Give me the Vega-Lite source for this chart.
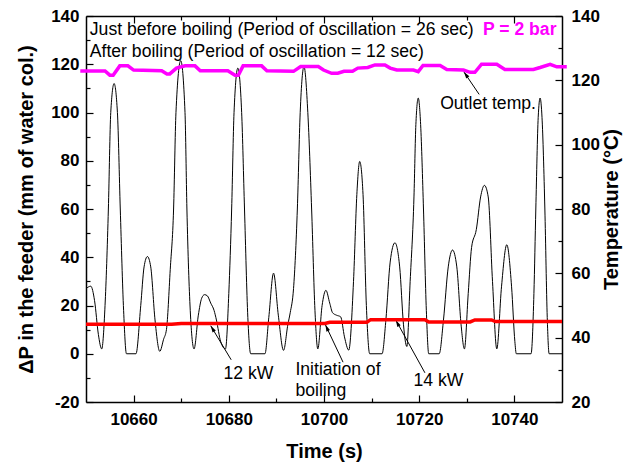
{
  "$schema": "https://vega.github.io/schema/vega-lite/v6.json",
  "width": 476,
  "height": 386,
  "autosize": {"type": "none"},
  "padding": {"left": 86, "top": 16, "right": 68, "bottom": 61},
  "background": "white",
  "config": {
    "view": {"stroke": null},
    "font": "Liberation Sans",
    "axis": {
      "grid": false,
      "domainColor": "black",
      "domainWidth": 1.5,
      "tickColor": "black",
      "tickWidth": 1.2,
      "labelFont": "Liberation Sans",
      "labelFontWeight": "bold",
      "labelFontSize": 17,
      "labelColor": "black",
      "labelFlush": false,
      "labelOverlap": false,
      "titleFont": "Liberation Sans",
      "titleFontWeight": "bold",
      "titleFontSize": 20,
      "titleColor": "black"
    }
  },
  "datasets": {
    "dp": [
      {"t": 10650, "dp": 27}, {"t": 10651, "dp": 28}, {"t": 10651.8, "dp": 22}, {"t": 10652.6, "dp": 8}, {"t": 10653.3, "dp": 2},
      {"t": 10654.0, "dp": 20}, {"t": 10654.7, "dp": 60}, {"t": 10655.2, "dp": 100}, {"t": 10655.9, "dp": 112}, {"t": 10656.6, "dp": 100},
      {"t": 10657.2, "dp": 60}, {"t": 10657.9, "dp": 18}, {"t": 10658.5, "dp": 0}, {"t": 10660.5, "dp": 0},
      {"t": 10661.5, "dp": 20}, {"t": 10662.2, "dp": 36}, {"t": 10662.9, "dp": 40.3}, {"t": 10663.6, "dp": 36}, {"t": 10664.5, "dp": 14},
      {"t": 10665.5, "dp": 1}, {"t": 10666.3, "dp": 6}, {"t": 10666.9, "dp": 10}, {"t": 10667.7, "dp": 35}, {"t": 10668.4, "dp": 60},
      {"t": 10668.9, "dp": 100}, {"t": 10669.9, "dp": 121.5}, {"t": 10670.8, "dp": 100}, {"t": 10671.2, "dp": 60}, {"t": 10671.9, "dp": 18},
      {"t": 10672.7, "dp": 2}, {"t": 10673.6, "dp": 16}, {"t": 10674.3, "dp": 23}, {"t": 10674.9, "dp": 24.5}, {"t": 10675.5, "dp": 24},
      {"t": 10676.2, "dp": 21}, {"t": 10676.9, "dp": 18}, {"t": 10677.4, "dp": 14}, {"t": 10678.3, "dp": 5}, {"t": 10679.3, "dp": 2},
      {"t": 10680.0, "dp": 25}, {"t": 10680.6, "dp": 60}, {"t": 10681.1, "dp": 100}, {"t": 10681.9, "dp": 118.4}, {"t": 10682.7, "dp": 100},
      {"t": 10683.3, "dp": 60}, {"t": 10684.0, "dp": 15}, {"t": 10684.6, "dp": 0}, {"t": 10687.6, "dp": 0},
      {"t": 10688.4, "dp": 15}, {"t": 10689.4, "dp": 33.4}, {"t": 10690.4, "dp": 16}, {"t": 10691.5, "dp": 1.4}, {"t": 10692.4, "dp": 12},
      {"t": 10692.9, "dp": 17}, {"t": 10693.6, "dp": 27}, {"t": 10694.4, "dp": 60}, {"t": 10695.0, "dp": 100}, {"t": 10695.8, "dp": 119},
      {"t": 10696.6, "dp": 100}, {"t": 10697.4, "dp": 60}, {"t": 10698.1, "dp": 18}, {"t": 10698.7, "dp": 2},
      {"t": 10699.6, "dp": 20}, {"t": 10700.4, "dp": 26.3}, {"t": 10701.2, "dp": 21}, {"t": 10701.8, "dp": 17}, {"t": 10702.6, "dp": 16},
      {"t": 10703.5, "dp": 15.3}, {"t": 10704.3, "dp": 7}, {"t": 10705.2, "dp": 1.5},
      {"t": 10706.2, "dp": 30}, {"t": 10706.9, "dp": 66}, {"t": 10707.5, "dp": 79.7}, {"t": 10708.2, "dp": 66}, {"t": 10708.9, "dp": 20},
      {"t": 10709.6, "dp": 0}, {"t": 10712.2, "dp": 0},
      {"t": 10713.0, "dp": 14}, {"t": 10713.9, "dp": 38}, {"t": 10714.9, "dp": 46}, {"t": 10715.9, "dp": 36}, {"t": 10716.7, "dp": 12},
      {"t": 10717.4, "dp": 3}, {"t": 10718.1, "dp": 30}, {"t": 10718.9, "dp": 65}, {"t": 10719.3, "dp": 95}, {"t": 10719.8, "dp": 106},
      {"t": 10720.3, "dp": 95}, {"t": 10720.9, "dp": 60}, {"t": 10721.5, "dp": 18}, {"t": 10722.0, "dp": 0}, {"t": 10724.2, "dp": 0},
      {"t": 10725.1, "dp": 14}, {"t": 10726.1, "dp": 36}, {"t": 10727.0, "dp": 43}, {"t": 10727.9, "dp": 36}, {"t": 10728.8, "dp": 12},
      {"t": 10729.5, "dp": 2}, {"t": 10730.3, "dp": 25}, {"t": 10731.0, "dp": 44}, {"t": 10732.0, "dp": 51.5}, {"t": 10732.9, "dp": 65},
      {"t": 10733.7, "dp": 69.8}, {"t": 10734.5, "dp": 65}, {"t": 10735.4, "dp": 30}, {"t": 10736.3, "dp": 2},
      {"t": 10737.3, "dp": 28}, {"t": 10738.4, "dp": 45.2}, {"t": 10739.4, "dp": 28}, {"t": 10740.1, "dp": 5}, {"t": 10740.4, "dp": 0},
      {"t": 10743.5, "dp": 0}, {"t": 10744.1, "dp": 25}, {"t": 10744.5, "dp": 60}, {"t": 10745.0, "dp": 98}, {"t": 10745.4, "dp": 106},
      {"t": 10745.8, "dp": 98}, {"t": 10746.4, "dp": 60}, {"t": 10746.9, "dp": 15}, {"t": 10747.3, "dp": 0}, {"t": 10750, "dp": 0}
    ],
    "temp": [
      {"series": "outlet", "t": 10648.8, "temp": 122.9}, {"series": "outlet", "t": 10654.0, "temp": 122.9},
      {"series": "outlet", "t": 10655.0, "temp": 121.6}, {"series": "outlet", "t": 10655.7, "temp": 121.6},
      {"series": "outlet", "t": 10657.1, "temp": 124.5}, {"series": "outlet", "t": 10658.8, "temp": 124.5},
      {"series": "outlet", "t": 10660.0, "temp": 123.2}, {"series": "outlet", "t": 10665.9, "temp": 123.0},
      {"series": "outlet", "t": 10667.0, "temp": 122.0}, {"series": "outlet", "t": 10667.6, "temp": 122.0},
      {"series": "outlet", "t": 10669.0, "temp": 123.8}, {"series": "outlet", "t": 10670.8, "temp": 124.5},
      {"series": "outlet", "t": 10672.9, "temp": 124.5}, {"series": "outlet", "t": 10674.0, "temp": 123.0},
      {"series": "outlet", "t": 10679.8, "temp": 123.0}, {"series": "outlet", "t": 10681.3, "temp": 121.6},
      {"series": "outlet", "t": 10682.0, "temp": 121.6}, {"series": "outlet", "t": 10683.0, "temp": 124.5},
      {"series": "outlet", "t": 10686.9, "temp": 124.5}, {"series": "outlet", "t": 10688.0, "temp": 123.0},
      {"series": "outlet", "t": 10693.6, "temp": 122.8}, {"series": "outlet", "t": 10695.1, "temp": 124.3},
      {"series": "outlet", "t": 10698.8, "temp": 124.3}, {"series": "outlet", "t": 10699.9, "temp": 123.2},
      {"series": "outlet", "t": 10701.6, "temp": 122.2}, {"series": "outlet", "t": 10702.9, "temp": 122.2},
      {"series": "outlet", "t": 10704.2, "temp": 122.8}, {"series": "outlet", "t": 10706.0, "temp": 122.8},
      {"series": "outlet", "t": 10707.1, "temp": 123.8}, {"series": "outlet", "t": 10709.2, "temp": 124.0},
      {"series": "outlet", "t": 10710.7, "temp": 124.8}, {"series": "outlet", "t": 10712.8, "temp": 124.8},
      {"series": "outlet", "t": 10713.9, "temp": 123.8}, {"series": "outlet", "t": 10715.3, "temp": 123.2},
      {"series": "outlet", "t": 10718.8, "temp": 123.2}, {"series": "outlet", "t": 10719.8, "temp": 122.7},
      {"series": "outlet", "t": 10720.8, "temp": 124.6}, {"series": "outlet", "t": 10724.4, "temp": 124.6},
      {"series": "outlet", "t": 10725.8, "temp": 123.4}, {"series": "outlet", "t": 10729.3, "temp": 123.2},
      {"series": "outlet", "t": 10730.7, "temp": 122.5}, {"series": "outlet", "t": 10731.7, "temp": 122.5},
      {"series": "outlet", "t": 10733.1, "temp": 125.0}, {"series": "outlet", "t": 10736.3, "temp": 125.0},
      {"series": "outlet", "t": 10738.0, "temp": 123.4}, {"series": "outlet", "t": 10744.0, "temp": 123.4},
      {"series": "outlet", "t": 10745.4, "temp": 124.0}, {"series": "outlet", "t": 10747.5, "temp": 125.0},
      {"series": "outlet", "t": 10748.9, "temp": 124.2}, {"series": "outlet", "t": 10751.0, "temp": 124.2},
      {"series": "inlet", "t": 10650.0, "temp": 44.2}, {"series": "inlet", "t": 10668.0, "temp": 44.2},
      {"series": "inlet", "t": 10670.0, "temp": 44.4}, {"series": "inlet", "t": 10700.2, "temp": 44.4},
      {"series": "inlet", "t": 10701.2, "temp": 44.8}, {"series": "inlet", "t": 10709.0, "temp": 44.8},
      {"series": "inlet", "t": 10709.8, "temp": 45.6}, {"series": "inlet", "t": 10721.2, "temp": 45.6},
      {"series": "inlet", "t": 10722.0, "temp": 44.9}, {"series": "inlet", "t": 10730.7, "temp": 44.9},
      {"series": "inlet", "t": 10731.7, "temp": 45.5}, {"series": "inlet", "t": 10735.2, "temp": 45.5},
      {"series": "inlet", "t": 10736.0, "temp": 45.0}, {"series": "inlet", "t": 10750.0, "temp": 45.0}
    ],
    "notes": [
      {"label": "Just before boiling (Period of oscillation = 26 sec)", "t": 10650.8, "v": 134.0},
      {"label": "After boiling (Period of oscillation = 12 sec)", "t": 10650.8, "v": 125.1},
      {"label": "Outlet temp.", "t": 10724.4, "v": 103.4},
      {"label": "12 kW", "t": 10678.9, "v": -8.4},
      {"label": "Initiation of", "t": 10694.0, "v": -6.9},
      {"label": "boiling", "t": 10694.0, "v": -15.6},
      {"label": "14 kW", "t": 10718.8, "v": -11.3}
    ],
    "pressure_note": [
      {"label": "P = 2 bar", "t": 10733.4, "v": 134.0}
    ],
    "arrows": [
      {"name": "outlet", "t": 10732.6, "v": 107.5, "t2": 10729.4, "v2": 116.8},
      {"name": "12kW", "t": 10680.5, "v": -2.5, "t2": 10676.2, "v2": 11.6},
      {"name": "boiling", "t": 10704.0, "v": -3.5, "t2": 10700.3, "v2": 12.0},
      {"name": "14kW", "t": 10721.2, "v": -7.9, "t2": 10715.1, "v2": 13.9}
    ]
  },
  "layer": [
    {
      "encoding": {
        "x": {
          "field": "t", "type": "quantitative",
          "scale": {"domain": [10650, 10750], "nice": false, "zero": false},
          "axis": {
            "orient": "bottom",
            "title": "Time (s)",
            "values": [10660, 10670, 10680, 10690, 10700, 10710, 10720, 10730, 10740],
            "labelExpr": "datum.value % 20 === 0 ? '' + datum.value : ''",
            "tickSize": {"condition": {"test": "datum.value % 20 !== 0", "value": -4}, "value": -7},
            "labelPadding": 16.5,
            "titlePadding": 11
          }
        },
        "y": {
          "field": "v", "type": "quantitative",
          "scale": {"domain": [-20, 140], "nice": false, "zero": false},
          "axis": {
            "orient": "left",
            "title": "ΔP in the feeder (mm of water col.)",
            "values": [-20, -10, 0, 10, 20, 30, 40, 50, 60, 70, 80, 90, 100, 110, 120, 130, 140],
            "labelExpr": "datum.value % 20 === 0 ? '' + datum.value : ''",
            "tickSize": {"condition": {"test": "datum.value % 20 !== 0", "value": -4}, "value": -7},
            "labelPadding": 14,
            "titlePadding": 14
          }
        }
      },
      "layer": [
        {
          "data": {"name": "dp"},
          "mark": {"type": "line", "color": "black", "strokeWidth": 1, "interpolate": "monotone", "clip": false},
          "encoding": {
            "y": {"field": "dp", "type": "quantitative"}
          }
        },
        {
          "data": {"name": "arrows"},
          "mark": {"type": "rule", "color": "black", "strokeWidth": 1, "clip": false},
          "encoding": {
            "x2": {"field": "t2"},
            "y2": {"field": "v2"}
          }
        },
        {
          "data": {"name": "arrows"},
          "transform": [{"filter": "datum.name === 'outlet'"}],
          "mark": {"type": "point", "shape": "M0,0L0.55,1.9L-0.55,1.9Z", "filled": true, "color": "black", "opacity": 1, "size": 49, "strokeWidth": 0, "angle": 324.7},
          "encoding": {
            "x": {"field": "t2", "type": "quantitative"},
            "y": {"field": "v2", "type": "quantitative"}
          }
        },
        {
          "data": {"name": "arrows"},
          "transform": [{"filter": "datum.name === '12kW'"}],
          "mark": {"type": "point", "shape": "M0,0L0.55,1.9L-0.55,1.9Z", "filled": true, "color": "black", "opacity": 1, "size": 49, "strokeWidth": 0, "angle": 328.4},
          "encoding": {
            "x": {"field": "t2", "type": "quantitative"},
            "y": {"field": "v2", "type": "quantitative"}
          }
        },
        {
          "data": {"name": "arrows"},
          "transform": [{"filter": "datum.name === 'boiling'"}],
          "mark": {"type": "point", "shape": "M0,0L0.55,1.9L-0.55,1.9Z", "filled": true, "color": "black", "opacity": 1, "size": 49, "strokeWidth": 0, "angle": 335.4},
          "encoding": {
            "x": {"field": "t2", "type": "quantitative"},
            "y": {"field": "v2", "type": "quantitative"}
          }
        },
        {
          "data": {"name": "arrows"},
          "transform": [{"filter": "datum.name === '14kW'"}],
          "mark": {"type": "point", "shape": "M0,0L0.55,1.9L-0.55,1.9Z", "filled": true, "color": "black", "opacity": 1, "size": 49, "strokeWidth": 0, "angle": 331.8},
          "encoding": {
            "x": {"field": "t2", "type": "quantitative"},
            "y": {"field": "v2", "type": "quantitative"}
          }
        },
        {
          "data": {"name": "notes"},
          "mark": {"type": "text", "align": "left", "baseline": "middle", "font": "Liberation Sans", "fontSize": 17.6, "color": "black", "clip": false},
          "encoding": {
            "text": {"field": "label"}
          }
        },
        {
          "data": {"name": "pressure_note"},
          "mark": {"type": "text", "align": "left", "baseline": "middle", "font": "Liberation Sans", "fontSize": 17.6, "fontWeight": "bold", "color": "#ff00ff", "clip": false},
          "encoding": {
            "text": {"field": "label"}
          }
        }
      ]
    },
    {
      "data": {"name": "temp"},
      "mark": {"type": "line", "strokeWidth": 3.5, "clip": false},
      "encoding": {
        "x": {
          "field": "t", "type": "quantitative",
          "scale": {"domain": [10650, 10750], "nice": false, "zero": false},
          "axis": {
            "orient": "top",
            "title": null,
            "labels": false,
            "values": [10660, 10670, 10680, 10690, 10700, 10710, 10720, 10730, 10740],
            "tickSize": {"condition": {"test": "datum.value % 20 !== 0", "value": -4}, "value": -7}
          }
        },
        "y": {
          "field": "temp", "type": "quantitative",
          "scale": {"domain": [20, 140], "nice": false, "zero": false},
          "axis": {
            "orient": "right",
            "title": "Temperature (°C)",
            "values": [20, 30, 40, 50, 60, 70, 80, 90, 100, 110, 120, 130, 140],
            "labelExpr": "datum.value % 20 === 0 ? '' + datum.value : ''",
            "tickSize": {"condition": {"test": "datum.value % 20 !== 0", "value": -4}, "value": -7},
            "labelPadding": 16,
            "titleAngle": -90,
            "titleBaseline": "top",
            "titlePadding": 2
          }
        },
        "color": {
          "field": "series", "type": "nominal",
          "scale": {"domain": ["outlet", "inlet"], "range": ["#ff00ff", "#ff0000"]},
          "legend": null
        },
        "detail": {"field": "series"}
      }
    }
  ],
  "resolve": {
    "scale": {"y": "independent"},
    "axis": {"x": "independent", "y": "independent"}
  }
}
